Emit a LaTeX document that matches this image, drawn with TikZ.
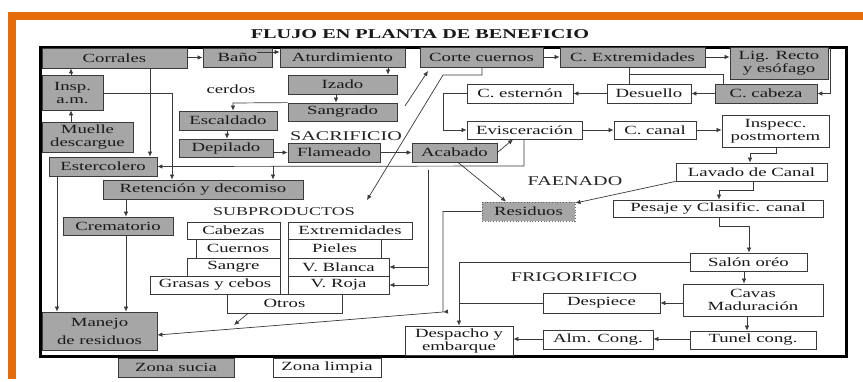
\documentclass[tikz,border=0pt]{standalone}
\usepackage{fontspec}
\setmainfont{Liberation Serif}[FakeStretch=1.5]
\usetikzlibrary{arrows.meta,calc}
\definecolor{orng}{HTML}{E46C0A}
\definecolor{boxgray}{HTML}{A6A6A6}
\definecolor{edge}{HTML}{3A3A3A}
\newcommand\mkbox[7]{\node[#6,minimum width={(#4-#2)*1pt},minimum height={(#5-#3)*1pt}] (#1) at ({(#2+#4)/2},{(#3+#5)/2}) {#7};}
\begin{document}
\begin{tikzpicture}[x=1pt,y=-1pt,
  base/.style={draw=edge,line width=0.8pt,inner sep=0pt,align=center,font=\fontsize{12.5}{13}\selectfont,text=black!90},
  gbox/.style={base,fill=boxgray},
  wbox/.style={base,fill=white},
  rbox/.style={base,fill=boxgray,draw=black!60,dotted,line width=1pt},
  ln/.style={draw=edge,line width=0.7pt},
  ar/.style={ln,-{Latex[length=5pt,width=4.5pt]}},
  lbl/.style={font=\fontsize{13.4}{14}\selectfont,text=black!85},
  ttl/.style={font=\fontsize{13.5}{14}\selectfont\bfseries,text=black!90}]

\useasboundingbox (0,0) rectangle (863,381);
\fill[white] (0,0) rectangle (863,381);
\fill[orng] (8,12) rectangle (863,20);
\fill[orng] (8,12) rectangle (16,379);
\draw[line width=3pt] (40,47) rectangle (846,356);

\node[ttl] (title) at (420,34) {FLUJO EN PLANTA DE BENEFICIO};
\node[base,draw=none] (cerdos) at (231,89) {cerdos};
\node[lbl] (sacr) at (346,136) {SACRIFICIO};
\node[lbl,font=\fontsize{12}{13}\selectfont] (subp) at (284,212) {SUBPRODUCTOS};
\node[lbl] (faen) at (575,181) {FAENADO};
\node[lbl] (frig) at (574,277) {FRIGORIFICO};

\mkbox{corr}{42}{48}{187}{68}{gbox}{Corrales}
\mkbox{bano}{203}{48}{272}{67}{gbox}{Baño}
\mkbox{atur}{280}{48}{405}{67}{gbox}{Aturdimiento}
\mkbox{corte}{420}{47}{543}{67}{gbox}{Corte cuernos}
\mkbox{cext}{560}{47}{705}{67}{gbox}{C. Extremidades}
\mkbox{lig}{730}{47}{828}{79}{gbox}{Lig. Recto\\y esófago}
\mkbox{ccab}{715}{84}{817}{103}{gbox}{C. cabeza}
\mkbox{desu}{607}{84}{691}{103}{wbox}{Desuello}
\mkbox{cest}{467}{84}{573}{103}{wbox}{C. esternón}
\mkbox{evis}{467}{121}{582}{139}{wbox}{Evisceración}
\mkbox{ccan}{614}{121}{696}{139}{wbox}{C. canal}
\mkbox{insp2}{722}{115}{829}{147}{wbox}{Inspecc.\\postmortem}
\mkbox{lava}{676}{163}{827}{181}{wbox}{Lavado de Canal}
\mkbox{pesa}{613}{200}{823}{217}{wbox}{Pesaje y Clasific. canal}
\mkbox{salon}{690}{253}{807}{271}{wbox}{Salón oréo}
\mkbox{cavas}{683}{284}{823}{316}{wbox}{Cavas\\Maduración}
\mkbox{desp}{543}{293}{660}{313}{wbox}{Despiece}
\mkbox{tunel}{690}{331}{816}{349}{wbox}{Tunel cong.}
\mkbox{alm}{543}{330}{653}{349}{wbox}{Alm. Cong.}
\mkbox{despa}{405}{326}{513}{355}{wbox}{Despacho y\\embarque}
\mkbox{resid}{482}{202}{575}{221}{rbox}{Residuos}
\mkbox{acab}{412}{143}{497}{162}{gbox}{Acabado}
\mkbox{flam}{288}{143}{380}{162}{gbox}{Flameado}
\mkbox{depi}{179}{139}{273}{157}{gbox}{Depilado}
\mkbox{esca}{179}{111}{277}{130}{gbox}{Escaldado}
\mkbox{izado}{288}{75}{397}{94}{gbox}{Izado}
\mkbox{sang}{288}{103}{397}{121}{gbox}{Sangrado}
\mkbox{insp}{42}{75}{103}{110}{gbox}{Insp.\\a.m.}
\mkbox{muel}{42}{122}{133}{152}{gbox}{Muelle\\descargue}
\mkbox{ester}{49}{157}{157}{176}{gbox}{Estercolero}
\mkbox{reten}{103}{180}{303}{199}{gbox}{Retención y decomiso}
\mkbox{crem}{63}{217}{173}{235}{gbox}{Crematorio}
\mkbox{manejo}{42}{312}{157}{350}{gbox}{Manejo\\[5pt]de residuos}
\mkbox{zsuc}{118}{358}{234}{377}{gbox}{Zona sucia}
\mkbox{zlim}{273}{358}{381}{377}{wbox}{Zona limpia}
\mkbox{cabe}{187}{222}{280}{239}{wbox}{Cabezas}
\mkbox{extr}{288}{222}{412}{239}{wbox}{Extremidades}
\mkbox{cuer}{196}{239}{280}{258}{wbox}{Cuernos}
\mkbox{piel}{288}{239}{381}{258}{wbox}{Pieles}
\mkbox{sangre}{187}{258}{280}{276}{wbox}{Sangre}
\mkbox{vbla}{288}{258}{389}{276}{wbox}{V. Blanca}
\mkbox{gras}{150}{276}{280}{294}{wbox}{Grasas y cebos}
\mkbox{vroj}{288}{276}{389}{294}{wbox}{V. Roja}
\mkbox{otros}{227}{294}{342}{313}{wbox}{Otros}

% helper coordinates
\coordinate (b1) at (257,52);
\coordinate (sgo) at (405,106);
\coordinate (ctip) at (428,71);
\coordinate (sptip) at (367,200);
\coordinate (otip) at (234,325);
\coordinate (rj) at (443,312);

% sacrificio
\draw[ar] (corr.east |- bano.west) -- (bano.west);
\draw[ar] (b1) -- (atur.west |- b1);
\draw[ar] (atur.south -| 388,0) -- (izado.north -| 388,0);
\draw[ar] (izado.south -| 336,0) -- (sang.north -| 336,0);
\draw[ar] (sang.north west) -- (233,103) -- (esca.north -| 233,0);
\draw[ar] (esca.south -| 227,0) -- (depi.north -| 227,0);
\draw[ar] (depi.east |- flam.west) -- (flam.west);
\draw[ar] (flam.east) -- (acab.west);
\draw[ar] (acab.east) -- (evis.south -| 513,0);
\draw[ar] (acab.south -| 458,0) -- (resid.north -| 506,0);
\draw[ar] (sgo) -- (ctip);
\draw[ar] (corte.south -| 482,0) -- (482,75) -- (443,75) -- (sptip);

% left side
\draw[ar] (muel.north -| 71,0) -- (insp.south -| 71,0);
\draw[ar] (insp.north -| 71,0) -- (corr.south -| 71,0);
\draw[ar] (corr.south -| 150,0) -- (ester.north -| 150,0);
\draw[ar] (insp.east |- 0,93) -- (172,93) -- (reten.north -| 172,0);
\draw[ar] (evis.south -| 524,0) -- (524,166) -- (ester.east);
\draw[ar] (273,166) -- (reten.north -| 273,0);
\draw[ar] (reten.south -| 126,0) -- (crem.north -| 126,0);
\draw[ar] (crem.south -| 126,0) -- (manejo.north -| 126,0);
\draw[ar] (ester.south -| 57,0) -- (manejo.north -| 57,0);
\draw[ar] (otros.south -| 248,0) -- (otip);
\draw[ar] (resid.west) -- (443,211.5) -- (rj) -- (manejo.east |- 0,335);
\draw[ar] (448,311.6) -- (rj);

% subproductos
\draw[ln] (428,170) -- (428,285);
\draw[ar] (428,267) -- (vbla.east);
\draw[ar] (428,285) -- (vroj.east);

% faenado
\draw[ar] (corte.east) -- (cext.west |- corte.east);
\draw[ar] (cext.east) -- (lig.west |- cext.east);
\draw[ln] (cext.south -| 629,0) -- (desu.north -| 629,0);
\draw[ln] (629,74) -- (723,74) -- (ccab.north -| 723,0);
\draw[ar] ($(lig.north east)+(2,1)$) |- (ccab.east);
\draw[ar] (ccab.west) -- (desu.east);
\draw[ar] (desu.west) -- (cest.east);
\draw[ar] (cest.west) -- (443,93.5) |- (evis.west);
\draw[ar] (evis.east) -- (ccan.west);
\draw[ar] (ccan.east) -- (insp2.west |- ccan.east);
\draw[ar] (insp2.south -| 776,0) -- (776,153) -- (750,153) -- (lava.north -| 750,0);
\draw[ar] (lava.south west) -- (resid.east |- 0,203);
\draw[ar] (lava.south -| 753,0) -- (753,190) -- (719,190) -- (pesa.north -| 719,0);
\draw[ar] (pesa.south -| 719,0) -- (719,226) -- (749,226) -- (salon.north -| 749,0);

% frigorifico
\draw[ar] (salon.south -| 744,0) -- (cavas.north -| 744,0);
\draw[ar] (cavas.south -| 747,0) -- (tunel.north -| 747,0);
\draw[ar] (cavas.west |- desp.east) -- (desp.east);
\draw[ar] (tunel.west |- 0,339) -- (alm.east |- 0,339);
\draw[ar] (alm.west |- 0,339) -- (despa.east |- 0,339);
\draw[ar] (salon.west) -- (459,262) -- (despa.north);
\draw[ln] (desp.west) -- (459,303);
\end{tikzpicture}
\end{document}
